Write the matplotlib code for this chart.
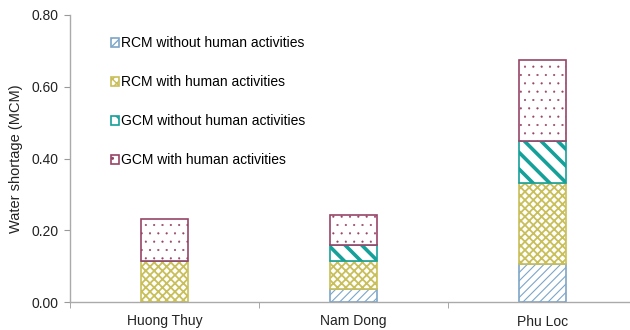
import matplotlib
matplotlib.use("Agg")
import matplotlib.pyplot as plt
import numpy as np

plt.rcParams['font.family'] = ['Liberation Sans', 'DejaVu Sans']

stations = ["Huong Thuy", "Nam Dong", "Phu Loc"]
series_names = [
    "RCM without human activities",
    "RCM with human activities",
    "GCM without human activities",
    "GCM with human activities",
]
rcm_without = [0.0, 0.036, 0.105]
rcm_with = [0.115, 0.079, 0.228]
gcm_without = [0.0, 0.044, 0.116]
gcm_with = [0.116, 0.083, 0.226]
y_ticks = [0.0, 0.2, 0.4, 0.6, 0.8]

series = [rcm_without, rcm_with, gcm_without, gcm_with]
styles = [
    dict(edgecolor="#7ea6c8", hatchcolor="#8ab0d0", hatch="////", lw_h=0.8),
    dict(edgecolor="#c9bf5a", hatchcolor="#d3ca74", hatch="xxxx", lw_h=1.3),
    dict(edgecolor="#16a09a", hatchcolor="#16a09a", hatch="\\\\", lw_h=2.6),
    dict(edgecolor="#964466", hatchcolor="#a8587a", hatch="..", lw_h=0.3),
]

fig = plt.figure(figsize=(6.3, 3.3), dpi=100)
ax = fig.add_axes([70 / 630, 28 / 330, 567 / 630, 287 / 330])

x = np.arange(len(stations))
bottom = np.zeros(len(stations))
for name, vals, st in zip(series_names, series, styles):
    vals = np.array(vals)
    with plt.rc_context({'hatch.linewidth': st['lw_h'], 'hatch.color': st['hatchcolor']}):
        ax.bar(x, vals, width=0.25, bottom=bottom, color="white",
               edgecolor=st['edgecolor'], hatch=st['hatch'], linewidth=1.2,
               label=name)
    bottom = bottom + vals

ax.set_xlim(-0.5, 2.5)
ax.set_ylim(0, 0.8)
ax.set_yticks(y_ticks)
ax.set_yticklabels([f"{v:.2f}" for v in y_ticks], fontsize=10, color="#222222")
ax.set_xticks(x)
ax.set_xticklabels(stations, fontsize=10, color="#222222")
ax.set_xticks([-0.5, 0.5, 1.5, 2.5], minor=True)
ax.tick_params(axis='x', which='major', length=0, pad=9)
ax.tick_params(axis='x', which='minor', length=4, color="#999999", direction='out')
ax.tick_params(axis='y', length=4, color="#999999", pad=4)
for side in ['top', 'right']:
    ax.spines[side].set_visible(False)
for side in ['left', 'bottom']:
    ax.spines[side].set_color("#aaaaaa")
    ax.spines[side].set_linewidth(1.0)
ax.set_ylabel("Water shortage (MCM)", fontsize=10.5, color="#222222", labelpad=6)

handles, labels = ax.get_legend_handles_labels()
leg = ax.legend(handles, labels, loc="upper left", bbox_to_anchor=(0.062, 0.946),
                frameon=False, fontsize=10, handlelength=0.6, handleheight=0.6,
                handletextpad=0.15, labelspacing=1.8, borderaxespad=0)

fig.savefig("out.png", dpi=100)
